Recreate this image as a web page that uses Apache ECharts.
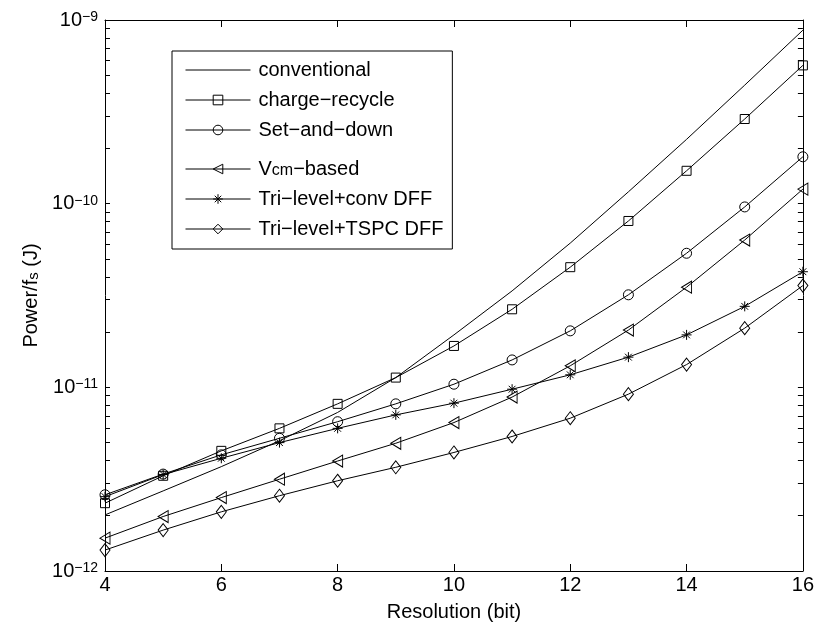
<!DOCTYPE html>
<html>
<head>
<meta charset="utf-8">
<script src="https://cdn.jsdelivr.net/npm/echarts@6/dist/echarts.min.js"></script>
<style>
  html, body { margin: 0; padding: 0; background: #fff; }
  #chart { width: 817px; height: 632px; }
</style>
</head>
<body>
<div id="chart"></div>
<script>
// Energy per conversion (Power/fs) versus ADC resolution for six switching schemes
const resolution = [4, 5, 6, 7, 8, 9, 10, 11, 12, 13, 14, 15, 16];

const conventional = [2.02e-12, 2.73e-12, 3.70e-12, 5.12e-12, 7.3e-12, 1.13e-11, 1.93e-11, 3.35e-11, 6.1e-11, 1.16e-10, 2.24e-10, 4.42e-10, 8.8e-10];
const chargeRecycle = [2.34e-12, 3.30e-12, 4.51e-12, 5.98e-12, 8.13e-12, 1.13e-11, 1.68e-11, 2.66e-11, 4.51e-11, 8.05e-11, 1.51e-10, 2.89e-10, 5.66e-10];
const setAndDown = [2.60e-12, 3.37e-12, 4.29e-12, 5.28e-12, 6.50e-12, 8.13e-12, 1.04e-11, 1.41e-11, 2.03e-11, 3.19e-11, 5.37e-11, 9.6e-11, 1.80e-10];
const vcmBased = [1.51e-12, 1.98e-12, 2.51e-12, 3.16e-12, 3.97e-12, 4.96e-12, 6.43e-12, 8.85e-12, 1.31e-11, 2.05e-11, 3.51e-11, 6.34e-11, 1.20e-10];
const triLevelConv = [2.54e-12, 3.35e-12, 4.11e-12, 5.00e-12, 5.98e-12, 7.08e-12, 8.2e-12, 9.77e-12, 1.17e-11, 1.46e-11, 1.93e-11, 2.76e-11, 4.26e-11];
const triLevelTspc = [1.30e-12, 1.67e-12, 2.10e-12, 2.57e-12, 3.10e-12, 3.67e-12, 4.42e-12, 5.40e-12, 6.79e-12, 9.18e-12, 1.33e-11, 2.10e-11, 3.58e-11];

const seriesNames = ['conventional', 'charge\u2212recycle', 'Set\u2212and\u2212down', 'Vcm\u2212based', 'Tri\u2212level+conv DFF', 'Tri\u2212level+TSPC DFF'];

const xTicks = [4, 6, 8, 10, 12, 14, 16];
const yDecades = [1e-12, 1e-11, 1e-10, 1e-9];

// decade ticks plus the 2..9 minor ticks of a log axis
const yTickValues = [];
for (let e = -12; e < -9; e++) {
  for (let k = 1; k <= 9; k++) yTickValues.push(k * Math.pow(10, e));
}
yTickValues.push(1e-9);

const FONT = "'Liberation Sans', Arial, Helvetica, sans-serif";
const BLACK = '#000';
const HOLLOW = 'rgba(0,0,0,0)';
const ASTERISK = 'path://M5,0L5,10M0,5L10,5M1.6,1.6L8.4,8.4M8.4,1.6L1.6,8.4';

const toXY = (vals) => resolution.map((r, i) => [r, vals[i]]);

function lineSeries(name, vals, symbol, size, rotate) {
  return {
    name: name,
    type: 'line',
    xAxisIndex: 0,
    yAxisIndex: 0,
    data: toXY(vals),
    symbol: symbol,
    symbolSize: size,
    symbolRotate: rotate || 0,
    showSymbol: symbol !== 'none',
    lineStyle: { color: BLACK, width: 1 },
    itemStyle: { color: HOLLOW, borderColor: BLACK, borderWidth: 1 },
    emphasis: { disabled: true },
    animation: false,
    z: 3
  };
}

const series = [
  lineSeries(seriesNames[0], conventional, 'none', 0),
  lineSeries(seriesNames[1], chargeRecycle, 'rect', 9),
  lineSeries(seriesNames[2], setAndDown, 'circle', 10),
  lineSeries(seriesNames[3], vcmBased, 'triangle', [12, 10], 90),
  lineSeries(seriesNames[4], triLevelConv, ASTERISK, 10),
  lineSeries(seriesNames[5], triLevelTspc, 'diamond', [10, 13])
];

const legendItem = (name, hidden) => ({
  name: name,
  itemStyle: hidden
    ? { color: HOLLOW, borderColor: HOLLOW, borderWidth: 0 }
    : { color: HOLLOW, borderColor: BLACK, borderWidth: 1 },
  lineStyle: { color: BLACK, width: 1 }
});

const labelRich = {
  b: { fontFamily: FONT, fontSize: 20, color: BLACK, lineHeight: 20, verticalAlign: 'bottom' },
  e: { fontFamily: FONT, fontSize: 14, color: BLACK, lineHeight: 14, verticalAlign: 'top', padding: [0, 0, 12, 0] }
};

const axisCommonX = {
  type: 'value', min: 4, max: 16, interval: 2,
  axisLine: { show: true, onZero: false, lineStyle: { color: BLACK, width: 1 } },
  axisTick: { show: true, inside: true, length: 7, lineStyle: { color: BLACK, width: 1 }, customValues: xTicks },
  splitLine: { show: false }
};

const axisCommonY = {
  type: 'log', logBase: 10, min: 1e-12, max: 1e-9,
  axisLine: { show: true, onZero: false, lineStyle: { color: BLACK, width: 1 } },
  axisTick: { show: true, inside: true, length: 5, lineStyle: { color: BLACK, width: 1 }, customValues: yTickValues },
  splitLine: { show: false },
  minorTick: { show: false }
};

const chart = echarts.init(document.getElementById('chart'), null, { renderer: 'canvas' });

chart.setOption({
  animation: false,
  backgroundColor: '#fff',
  grid: { left: 105, right: 14, top: 20, bottom: 61, containLabel: false },
  xAxis: [
    Object.assign({}, axisCommonX, {
      position: 'bottom',
      name: 'Resolution (bit)',
      nameLocation: 'middle',
      nameGap: 31,
      nameTextStyle: { fontFamily: FONT, fontSize: 20, color: BLACK },
      axisLabel: { show: true, margin: 4, fontFamily: FONT, fontSize: 20, color: BLACK, customValues: xTicks }
    }),
    Object.assign({}, axisCommonX, {
      position: 'top',
      axisLabel: { show: false }
    })
  ],
  yAxis: [
    Object.assign({}, axisCommonY, {
      position: 'left',
      name: '{a|Power/f}{s|s}{a| (J)}',
      nameLocation: 'middle',
      nameGap: 58,
      nameTextStyle: {
        rich: {
          a: { fontFamily: FONT, fontSize: 20, color: BLACK, lineHeight: 20, verticalAlign: 'top' },
          s: { fontFamily: FONT, fontSize: 15, color: BLACK, lineHeight: 15, verticalAlign: 'bottom', padding: [13, 0, 0, 0] }
        }
      },
      axisLabel: {
        show: true, margin: 7, customValues: yDecades,
        formatter: (v) => '{b|10}{e|\u2212' + Math.abs(Math.round(Math.log10(v))) + '}',
        rich: labelRich
      }
    }),
    Object.assign({}, axisCommonY, {
      position: 'right',
      axisLabel: { show: false }
    })
  ],
  legend: {
    orient: 'vertical',
    left: 172,
    top: 51,
    backgroundColor: '#fff',
    borderColor: BLACK,
    borderWidth: 1,
    borderRadius: 0,
    padding: [9, 9, 10, 13],
    itemWidth: 65,
    itemHeight: 12,
    itemGap: 10,
    selectedMode: false,
    data: seriesNames.map((n, i) => legendItem(n, i === 0)),
    formatter: (name) => name === seriesNames[3]
      ? '{t|V}{s|cm}{t|\u2212based}'
      : '{t|' + name + '}',
    textStyle: {
      padding: [0, 0, 0, 3],
      rich: {
        t: { fontFamily: FONT, fontSize: 20, color: BLACK, lineHeight: 20, verticalAlign: 'top' },
        s: { fontFamily: FONT, fontSize: 16, color: BLACK, lineHeight: 16, verticalAlign: 'bottom', padding: [13, 0, 0, 0] }
      }
    }
  },
  series: series
});
</script>
</body>
</html>
